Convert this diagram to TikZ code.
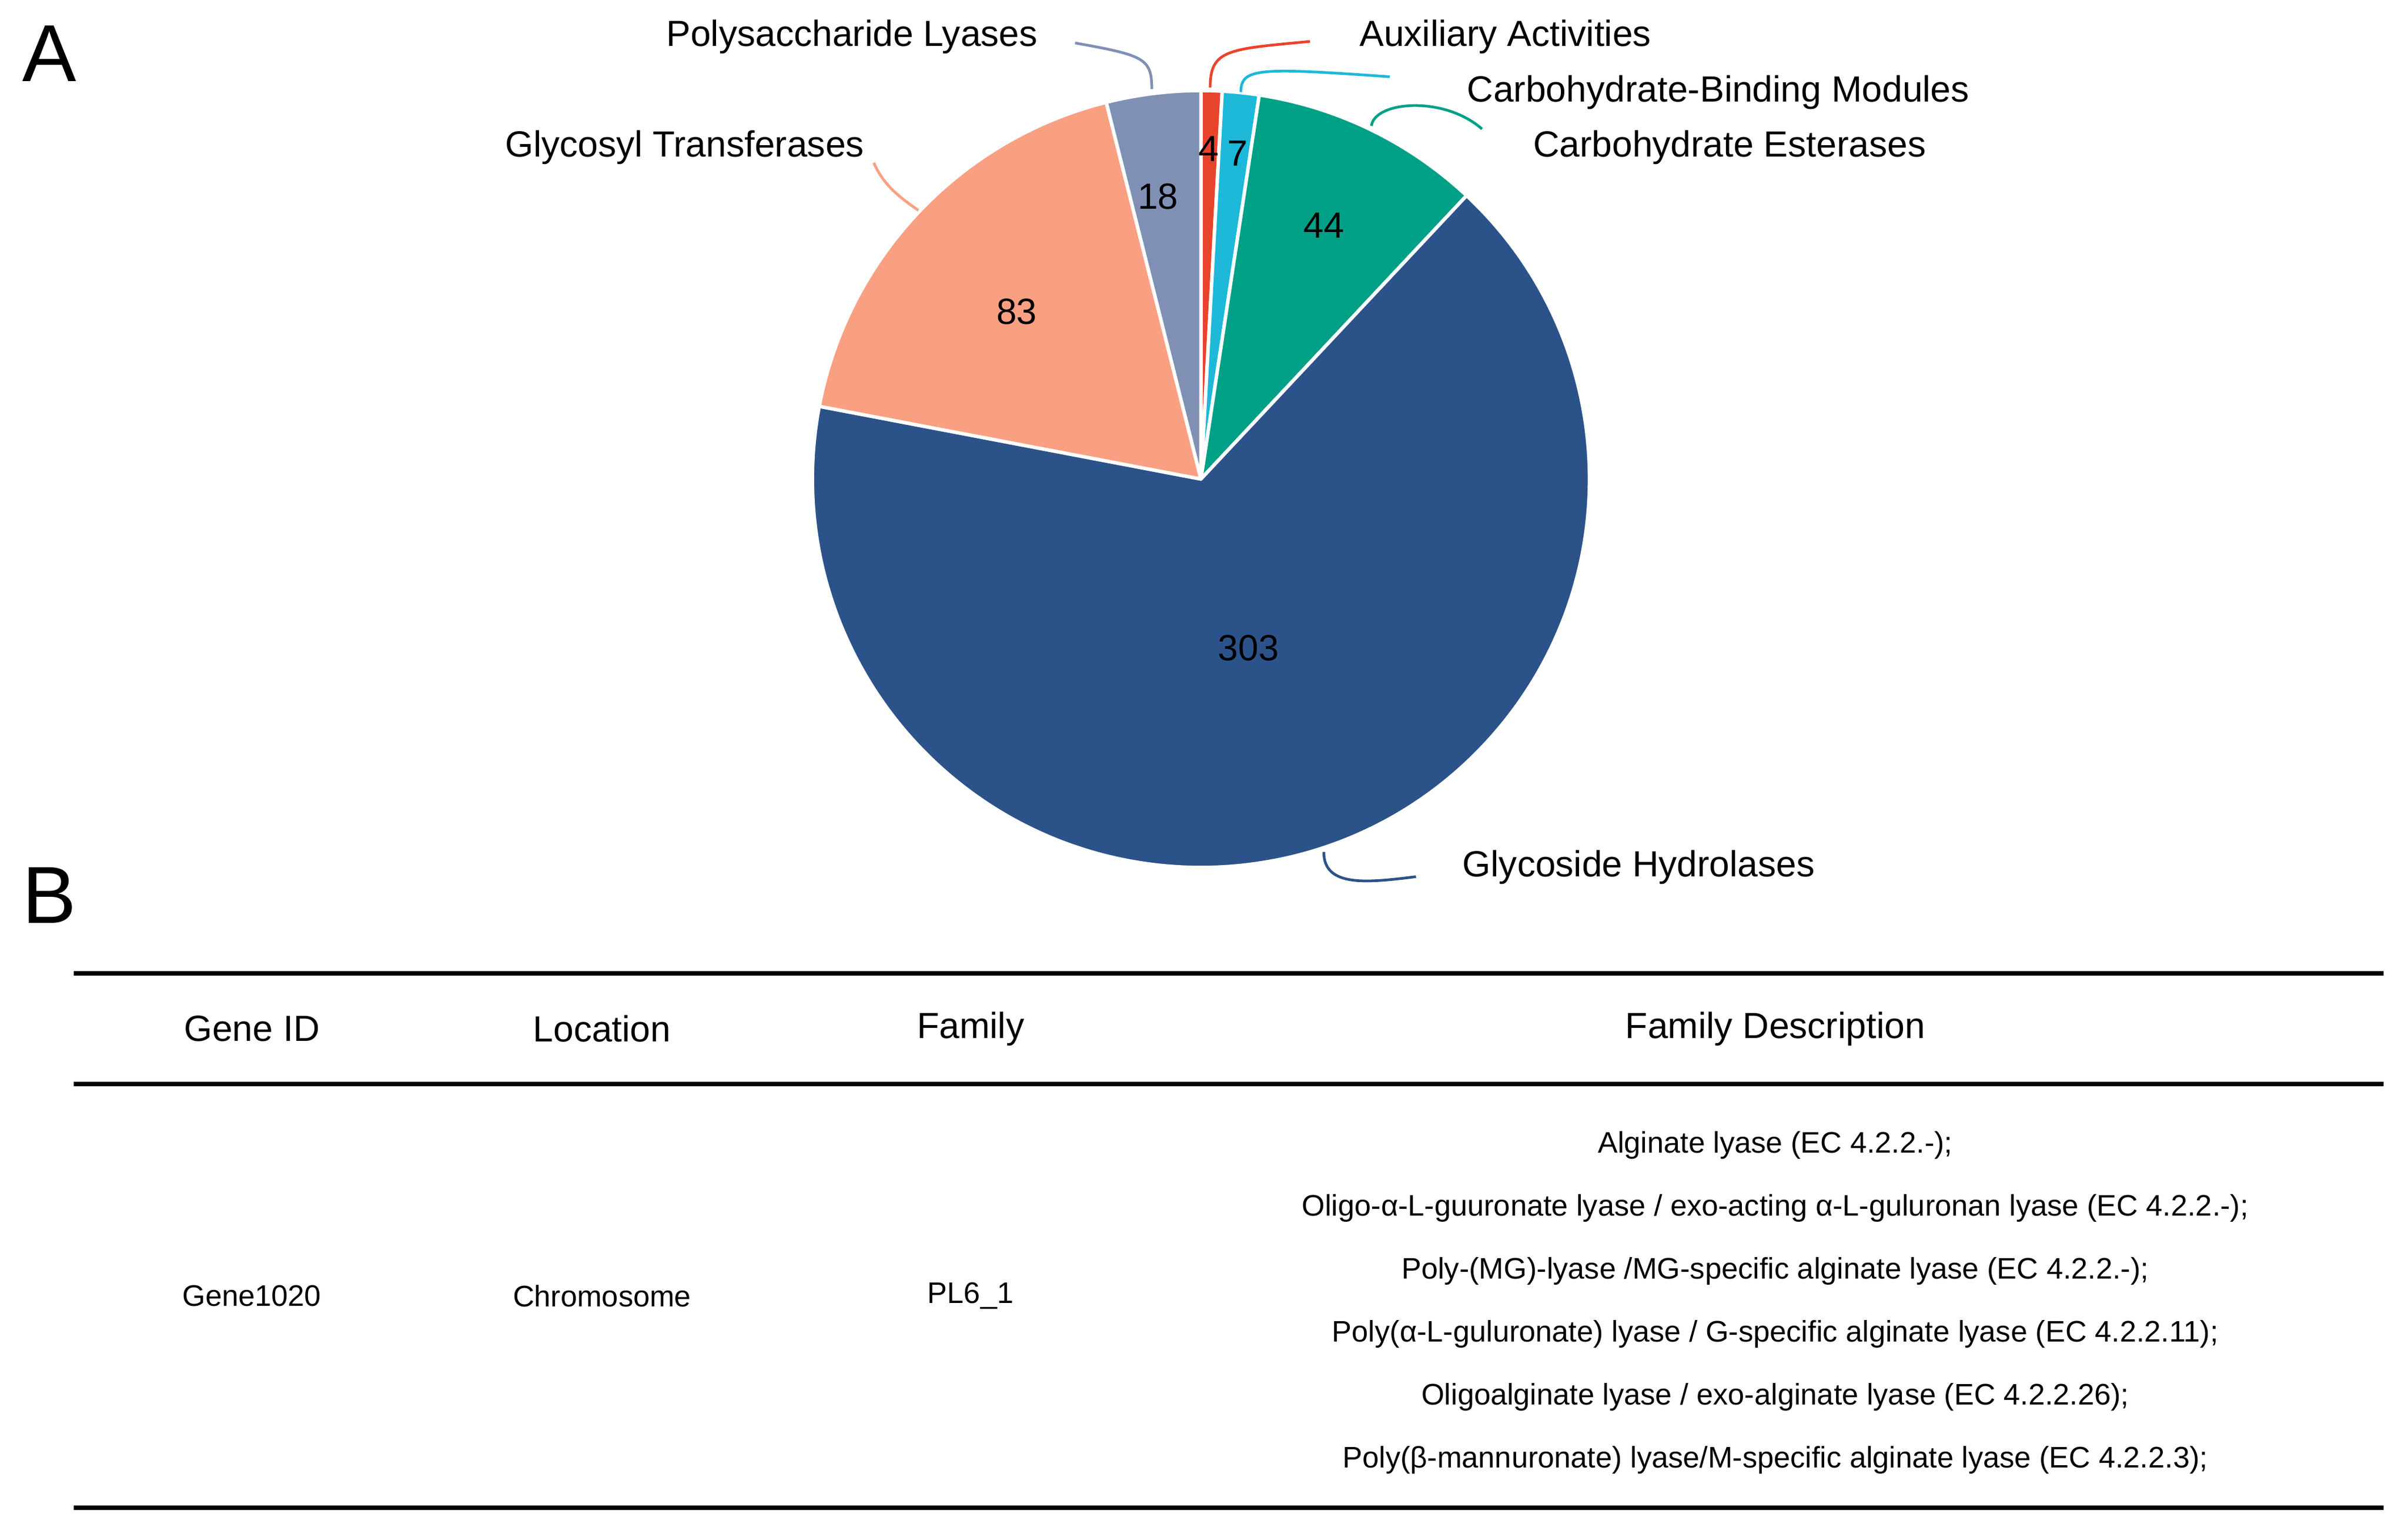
\documentclass[tikz,border=0pt]{standalone}
\usepackage{fontspec}
\setmainfont{Liberation Sans}
\definecolor{cAA}{RGB}{232,68,44}
\definecolor{cCBM}{RGB}{30,184,216}
\definecolor{cCE}{RGB}{0,160,135}
\definecolor{cGH}{RGB}{44,83,137}
\definecolor{cGT}{RGB}{249,160,131}
\definecolor{cPL}{RGB}{128,144,180}
\begin{document}
\begin{tikzpicture}[x=0.2mm,y=-0.2mm,
  lab/.style={font=\fontsize{13.5}{16}\selectfont,inner sep=0pt},
  num/.style={font=\fontsize{13.5}{16}\selectfont,inner sep=0pt},
  hd/.style={font=\fontsize{13.5}{16}\selectfont,inner sep=0pt},
  cell/.style={font=\fontsize{11}{13}\selectfont,inner sep=0pt},
  slice/.style={draw=white,line width=0.45mm,line join=round},
  rule/.style={line width=0.65mm},
  lead/.style={line width=0.35mm}]
\useasboundingbox (0,0) rectangle (1568,997);
\fill[white] (0,0) rectangle (1568,997);
\node[font=\fontsize{30}{34}\selectfont,inner sep=0pt] (A) at (32,35) {A};
\node[font=\fontsize{30}{34}\selectfont,inner sep=0pt] (B) at (32,583) {B};
\coordinate (O) at (782,312);
\def\R{50.6mm}
\fill[cAA,slice] (O) -- ++(90:\R) arc[start angle=90,end angle=86.86,radius=\R] -- cycle;
\fill[cCBM,slice] (O) -- ++(86.86:\R) arc[start angle=86.86,end angle=81.37,radius=\R] -- cycle;
\fill[cCE,slice] (O) -- ++(81.37:\R) arc[start angle=81.37,end angle=46.86,radius=\R] -- cycle;
\fill[cGH,slice] (O) -- ++(46.86:\R) arc[start angle=46.86,end angle=-190.79,radius=\R] -- cycle;
\fill[cGT,slice] (O) -- ++(-190.79:\R) arc[start angle=-190.79,end angle=-255.89,radius=\R] -- cycle;
\fill[cPL,slice] (O) -- ++(-255.89:\R) arc[start angle=-255.89,end angle=-270,radius=\R] -- cycle;
\node[num] (n4) at (787,97) {4};
\node[num] (n7) at (806,100) {7};
\node[num] (n44) at (862,147) {44};
\node[num] (n303) at (813,422) {303};
\node[num] (n83) at (662,203) {83};
\node[num] (n18) at (754,128) {18};
% labels
\node[lab,anchor=east] (lPL) at (676,24) {Polysaccharide Lyases};
\node[lab,anchor=west] (lAA) at (885,24) {Auxiliary Activities};
\node[lab,anchor=west] (lCBM) at (955,60) {Carbohydrate-Binding Modules};
\node[lab,anchor=west] (lCE) at (998,96) {Carbohydrate Esterases};
\node[lab,anchor=east] (lGT) at (563,96) {Glycosyl Transferases};
\node[lab,anchor=west] (lGH) at (952,565) {Glycoside Hydrolases};
\coordinate (pPLa) at (700,28); \coordinate (pPLb) at (750,58);
\draw[lead,cPL] (pPLa) .. controls (745,36) and (750,38) .. (pPLb);
\coordinate (pAAa) at (788,57); \coordinate (pAAb) at (853,27);
\draw[lead,cAA] (pAAa) .. controls (788,32) and (800,32) .. (pAAb);
\coordinate (pCBa) at (808,60); \coordinate (pCBb) at (905,50);
\draw[lead,cCBM] (pCBa) .. controls (808,44) and (820,44) .. (pCBb);
\coordinate (pCEa) at (893,82); \coordinate (pCEb) at (965,84);
\draw[lead,cCE] (pCEa) .. controls (895,66) and (940,62) .. (pCEb);
\coordinate (pGTa) at (569,106); \coordinate (pGTb) at (598,137);
\draw[lead,cGT] (pGTa) .. controls (575,120) and (585,128) .. (pGTb);
\coordinate (pGHa) at (862,555); \coordinate (pGHb) at (922,571);
\draw[lead,cGH] (pGHa) .. controls (862,578) and (890,575) .. (pGHb);
% table
\coordinate (t1l) at (48,634); \coordinate (t1r) at (1552,634);
\coordinate (t2l) at (48,706); \coordinate (t2r) at (1552,706);
\coordinate (t3l) at (48,982); \coordinate (t3r) at (1552,982);
\draw[rule] (t1l) -- (t1r);
\draw[rule] (t2l) -- (t2r);
\draw[rule] (t3l) -- (t3r);
\node[hd] (h1) at (164,670) {Gene ID};
\node[hd] (h2) at (392,670) {Location};
\node[hd] (h3) at (632,670) {Family};
\node[hd] (h4) at (1156,670) {Family Description};
\node[cell] (c1) at (164,844) {Gene1020};
\node[cell] (c2) at (392,844) {Chromosome};
\node[cell] (c3) at (632,844) {PL6\_1};
\node[cell] (d1) at (1156,746) {Alginate lyase (EC 4.2.2.-);};
\node[cell] (d2) at (1156,787) {Oligo-α-L-guuronate lyase / exo-acting α-L-guluronan lyase (EC 4.2.2.-);};
\node[cell] (d3) at (1156,828) {Poly-(MG)-lyase /MG-specific alginate lyase (EC 4.2.2.-);};
\node[cell] (d4) at (1156,869) {Poly(α-L-guluronate) lyase / G-specific alginate lyase (EC 4.2.2.11);};
\node[cell] (d5) at (1156,910) {Oligoalginate lyase / exo-alginate lyase (EC 4.2.2.26);};
\node[cell] (d6) at (1156,951) {Poly(β-mannuronate) lyase/M-specific alginate lyase (EC 4.2.2.3);};
\end{tikzpicture}
\end{document}
